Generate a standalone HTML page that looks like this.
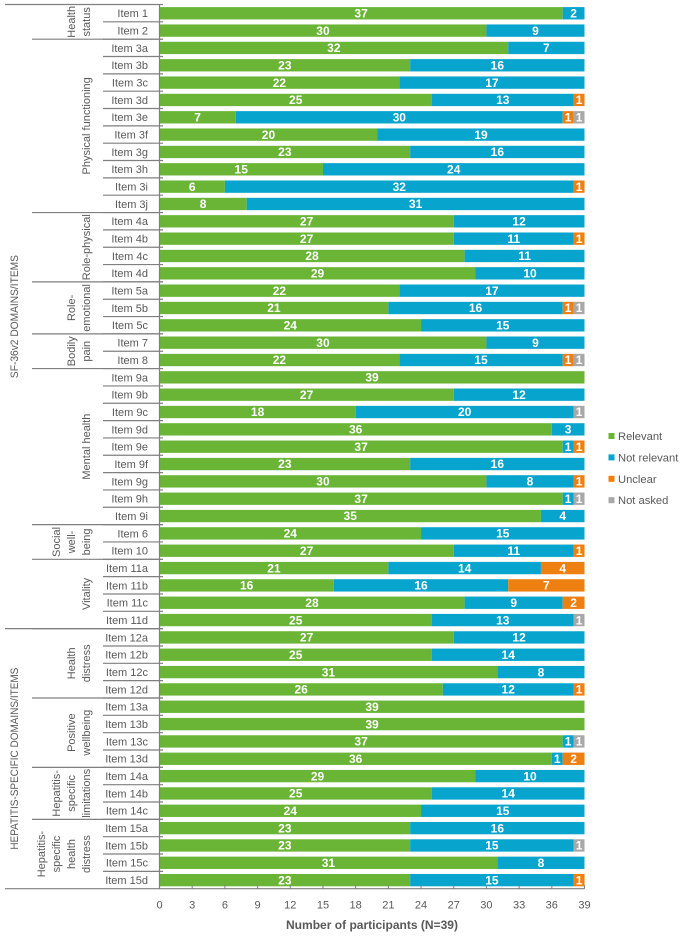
<!DOCTYPE html>
<html lang="en">
<head>
<meta charset="utf-8">
<title>Relevance of SF-36v2 and hepatitis-specific items</title>
<style>
html,body{margin:0;padding:0;background:#fff;width:685px;height:936px;overflow:hidden}
svg{display:block;font-family:"Liberation Sans",Arial,sans-serif}
</style>
</head>
<body>
<svg id="chart" xmlns="http://www.w3.org/2000/svg" width="685" height="936" viewBox="0 0 685 936"></svg>
<script>
const categories = ["Item 1","Item 2","Item 3a","Item 3b","Item 3c","Item 3d","Item 3e","Item 3f","Item 3g","Item 3h","Item 3i","Item 3j","Item 4a","Item 4b","Item 4c","Item 4d","Item 5a","Item 5b","Item 5c","Item 7","Item 8","Item 9a","Item 9b","Item 9c","Item 9d","Item 9e","Item 9f","Item 9g","Item 9h","Item 9i","Item 6","Item 10","Item 11a","Item 11b","Item 11c","Item 11d","Item 12a","Item 12b","Item 12c","Item 12d","Item 13a","Item 13b","Item 13c","Item 13d","Item 14a","Item 14b","Item 14c","Item 15a","Item 15b","Item 15c","Item 15d"];
const relevant = [37,30,32,23,22,25,7,20,23,15,6,8,27,27,28,29,22,21,24,30,22,39,27,18,36,37,23,30,37,35,24,27,21,16,28,25,27,25,31,26,39,39,37,36,29,25,24,23,23,31,23];
const notRelevant = [2,9,7,16,17,13,30,19,16,24,32,31,12,11,11,10,17,16,15,9,15,0,12,20,3,1,16,8,1,4,15,11,14,16,9,13,12,14,8,12,0,0,1,1,10,14,15,16,15,8,15];
const unclear = [0,0,0,0,0,1,1,0,0,0,1,0,0,1,0,0,0,1,0,0,1,0,0,0,0,1,0,1,0,0,0,1,4,7,2,0,0,0,0,1,0,0,0,2,0,0,0,0,0,0,1];
const notAsked = [0,0,0,0,0,0,1,0,0,0,0,0,0,0,0,0,0,1,0,0,1,0,0,1,0,0,0,0,1,0,0,0,0,0,0,1,0,0,0,0,0,0,1,0,0,0,0,0,1,0,0];
const xTicks = [0,3,6,9,12,15,18,21,24,27,30,33,36,39];
const domainNames = [["Health","status"],["Physical functioning"],["Role-physical"],["Role-","emotional"],["Bodily","pain"],["Mental health"],["Social","well-","being"],["Vitality"],["Health","distress"],["Positive","wellbeing"],["Hepatitis-","specific","limitations"],["Hepatitis-","specific","health","distress"]];
const domainSizes = [2,10,4,3,2,9,2,4,4,4,3,4];
const sectionNames = ["SF-36v2 DOMAINS/ITEMS","HEPATITIS-SPECIFIC DOMAINS/ITEMS"];
const sectionSizes = [36,15];
const seriesNames = ["Relevant","Not relevant","Unclear","Not asked"];
const seriesColors = ["#6ab536","#07a4cd","#ee7f11","#a8a8a8"];
const seriesValues = [relevant,notRelevant,unclear,notAsked];
const xAxisTitle = "Number of participants (N=39)";

const svg = document.getElementById('chart');
const NS = 'http://www.w3.org/2000/svg';
const plotLeft = 159.5, plotRight = 584.5, plotTop = 4.5, plotBottom = 888.7;
const axisColor = '#7f7f7f', textColor = '#595959';
const xMax = xTicks[xTicks.length - 1];
const rowH = (plotBottom - plotTop) / categories.length;
function xScale(v){ return plotLeft + v / xMax * (plotRight - plotLeft); }
function yScale(i){ return plotTop + i * rowH; }

function make(tag, attrs, parent){
  const el = document.createElementNS(NS, tag);
  for (const k in attrs) el.setAttribute(k, attrs[k]);
  (parent || svg).appendChild(el);
  return el;
}
function hLine(x1, x2, y, w){
  const el = make('line', {x1:x1, x2:x2, y1:y, y2:y, stroke:axisColor, 'stroke-width':w || 1.2});
  return el;
}

// bars
categories.forEach(function(cat, i){
  let acc = 0;
  seriesValues.forEach(function(vals, s){
    const v = vals[i];
    if (!v) return;
    const rect = make('rect', {x:xScale(acc), y:yScale(i) + 2.6, width:xScale(acc + v) - xScale(acc), height:rowH - 5, fill:seriesColors[s]});
    
    
    const label = make('text', {x:(xScale(acc) + xScale(acc + v)) / 2, y:yScale(i) + rowH / 2 + 4.3, fill:'#fff', 'font-size':'12', 'font-weight':'bold', 'text-anchor':'middle'});
    label.textContent = v;
    
    
    acc += v;
  });
  const itemLabel = make('text', {x:148, y:yScale(i) + rowH / 2 + 4, fill:textColor, 'font-size':'11', 'text-anchor':'end'});
  itemLabel.textContent = cat;
  
  
});

// row separators and left-axis ticks
for (let i = 1; i < categories.length; i++) {
  const sep = hLine(103, 163, yScale(i));
  
  
}

// domain labels and separators
let rowCursor = 0;
domainNames.forEach(function(lines, d){
  const size = domainSizes[d];
  const cy = yScale(rowCursor + size / 2);
  lines.forEach(function(line, j){
    const cx = 90 - (lines.length - 1 - j) * 15;
    const t = make('text', {x:0, y:0, transform:'translate(' + cx + ',' + cy + ') rotate(-90)', fill:textColor, 'font-size':'11', 'text-anchor':'middle'});
    t.textContent = line;
    
    
  });
  rowCursor += size;
  if (rowCursor < categories.length) {
    const sep = hLine(32, 163, yScale(rowCursor));
    
    
  }
});

// section labels and separators
let sectionCursor = 0;
sectionNames.forEach(function(name, n){
  const size = sectionSizes[n];
  const cy = yScale(sectionCursor + size / 2);
  const t = make('text', {x:0, y:0, transform:'translate(18,' + cy + ') rotate(-90)', fill:textColor, 'font-size':'11', 'text-anchor':'middle', textLength: n === 0 ? 123 : 182, lengthAdjust:'spacingAndGlyphs'});
  t.textContent = name;
  
  
  sectionCursor += size;
  if (sectionCursor < categories.length) {
    const sep = hLine(5, 163, yScale(sectionCursor));
    
    
  }
});

// frame lines
const topLine = hLine(5, 163, plotTop);


const bottomLine = hLine(5, plotRight, plotBottom);


const yAxisLine = make('line', {x1:plotLeft, x2:plotLeft, y1:plotTop, y2:plotBottom, stroke:axisColor, 'stroke-width':1.2});



// x ticks
xTicks.forEach(function(v){
  const tick = make('line', {x1:xScale(v), x2:xScale(v), y1:plotBottom - 3.5, y2:plotBottom, stroke:axisColor, 'stroke-width':1});
  
  
  const label = make('text', {x:xScale(v), y:908.5, fill:textColor, 'font-size':'11', 'text-anchor':'middle'});
  label.textContent = v;
  
  
});

const xTitle = make('text', {x:372, y:929, fill:textColor, 'font-size':'12', 'font-weight':'bold', 'text-anchor':'middle', textLength:172, lengthAdjust:'spacingAndGlyphs'});
xTitle.textContent = xAxisTitle;



// legend
seriesNames.forEach(function(name, s){
  const ly = 436 + s * 21.4;
  const swatch = make('rect', {x:608.5, y:ly - 3, width:6, height:6, fill:seriesColors[s]});
  
  
  const entry = make('text', {x:618, y:ly + 4, fill:textColor, 'font-size':'11.2'});
  entry.textContent = name;
  
  
});
</script>
</body>
</html>
